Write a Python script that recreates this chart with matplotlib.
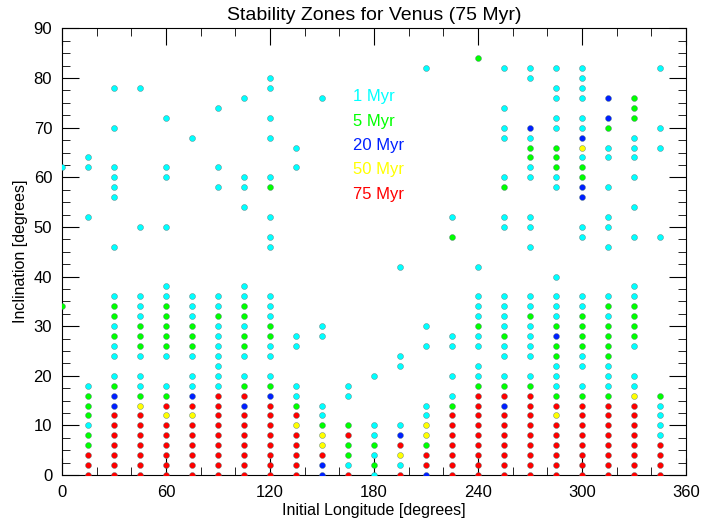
import matplotlib
matplotlib.use("Agg")
import matplotlib.pyplot as plt
from matplotlib.ticker import MultipleLocator

plt.rcParams['font.family'] = ['Liberation Sans', 'DejaVu Sans']

# initial longitudes of the test particles (degrees)
longitudes = [0, 15, 30, 45, 60, 75, 90, 105, 120, 135, 150, 165,
              180, 195, 210, 225, 240, 255, 270, 285, 300, 315, 330, 345]

# for each longitude: "inclination+code" entries
# code: c = 1 Myr, g = 5 Myr, b = 20 Myr, y = 50 Myr, r = 75 Myr
zones = [
    "34g 62c",
    "0r 2r 4r 6g 8g 10c 12g 14g 16g 18c 52c 62c 64c",
    "0r 2r 4r 6r 8r 10r 12r 14b 16b 18g 20c 24c 26c 28g 30c 32g 34g 36c 46c 56c 58c 60c 62c 70c 78c",
    "0r 2r 4r 6r 8r 10r 12r 14y 16g 18c 20c 24c 26g 28g 30g 32c 34c 36c 50c 78c",
    "0r 2r 4r 6r 8r 10r 12y 14r 16g 18c 24c 26g 28g 30g 32g 34g 36c 38c 50c 60c 62c 72c",
    "0r 2r 4r 6r 8r 10r 12y 14r 16b 18c 20c 24c 26g 28g 30g 32c 34c 36c 68c",
    "0r 2r 4r 6r 8r 10r 12r 14r 16r 18c 20c 22c 24c 26c 28c 30c 32g 34c 36c 58c 62c 74c",
    "0r 2r 4r 6r 8r 10r 12r 14b 16r 18g 20c 24c 26g 28g 30c 32g 34g 36c 38c 54c 58c 60c 76c",
    "0r 2r 4r 6r 8r 10r 12r 14r 16b 18g 20c 24c 26c 28g 30g 32c 34c 36c 46c 48c 52c 58g 60c 68c 72c 78c 80c",
    "0r 2r 4r 6r 8r 10y 12r 14g 16c 18c 26c 28c 62c 66c",
    "0b 2b 4r 6y 8y 10g 12c 14c 28c 30c 76c",
    "0r 2c 4g 6g 8r 10g 16c 18c",
    "0c 2g 4c 6g 8c 10c 20c",
    "0r 2c 4y 6r 8b 10c 22c 24c 42c",
    "0b 2r 4r 6g 8y 10y 12c 14c 26c 30c 82c",
    "0r 2r 4r 6r 8r 10r 12r 14g 16c 20c 26c 28c 48g 52c",
    "0r 2r 4r 6r 8r 10r 12r 14r 16r 18g 20c 22c 26c 28c 30g 32c 34c 36c 42c 84g",
    "0r 2r 4r 6r 8r 10r 12r 14b 16r 18g 20c 24c 26c 28g 30c 32c 34c 36c 50c 52c 58g 60c 68c 70c 74c 82c",
    "0r 2r 4r 6r 8r 10r 12r 14r 16r 18g 20c 24c 26c 28c 30c 32g 34c 36c 46c 50c 52c 60c 62c 64g 66g 68c 70b 80c 82c",
    "0r 2r 4r 6r 8r 10r 12y 14r 16g 18c 20c 22c 24g 26g 28b 30g 32c 34c 36c 40c 58c 60c 62g 64g 66g 70c 72c 76c 78c 82c",
    "0r 2r 4r 6r 8r 10r 12r 14r 16g 18c 22c 24c 26g 28g 30g 32g 34c 36c 48c 50c 56b 58b 60g 62g 64c 66y 68b 70c 72c 76c 78c 80c 82c",
    "0r 2r 4r 6r 8r 10r 12r 14r 16g 18c 20c 22c 24g 26g 28g 30g 32c 34g 36c 46c 50c 52c 58c 64c 66c 70g 72b 76b",
    "0r 2r 4r 6r 8r 10r 12r 14r 16y 18c 20c 26c 28g 30g 32g 34g 36c 38c 48c 54c 60c 64c 66c 68c 72g 74g 76g",
    "0r 2r 4r 6r 8c 10c 12c 14c 16g 48c 66c 70c 82c",
]

labels = ["1 Myr", "5 Myr", "20 Myr", "50 Myr", "75 Myr"]
codes = ["c", "g", "b", "y", "r"]
colors = ["#00ffff", "#00ff00", "#0020ff", "#ffff00", "#ff0000"]

fig = plt.figure(figsize=(7.01, 5.27), dpi=100)
ax = fig.add_axes([0.0884, 0.0986, 0.8902, 0.8474])

for code, col in zip(codes, colors):
    xs, ys = [], []
    for lon, entry in zip(longitudes, zones):
        for item in entry.split():
            if item[-1] == code:
                xs.append(lon)
                ys.append(float(item[:-1]))
    ax.scatter(xs, ys, s=18, c=col, edgecolors="#557777", linewidths=0.3, zorder=3)

for i, (lab, col) in enumerate(zip(labels, colors)):
    ax.text(168, 76.2 - 4.9 * i, lab, color=col, fontsize=12, va="center", ha="left")

ax.set_xlim(0, 360)
ax.set_ylim(0, 90)
ax.xaxis.set_major_locator(MultipleLocator(60))
ax.xaxis.set_minor_locator(MultipleLocator(20))
ax.yaxis.set_major_locator(MultipleLocator(10))
ax.yaxis.set_minor_locator(MultipleLocator(2.5))
ax.tick_params(which="both", direction="in", top=True, right=True, labelsize=12, pad=7)
ax.tick_params(which="major", length=12)
ax.tick_params(which="minor", length=6)
for sp in ax.spines.values():
    sp.set_linewidth(0.8)

ax.set_title("Stability Zones for Venus (75 Myr)", fontsize=14, pad=6)
ax.set_xlabel("Initial Longitude [degrees]", fontsize=11.5, labelpad=2)
ax.set_ylabel("Inclination [degrees]", fontsize=11.5, labelpad=4)

fig.savefig("out.png", dpi=100)
